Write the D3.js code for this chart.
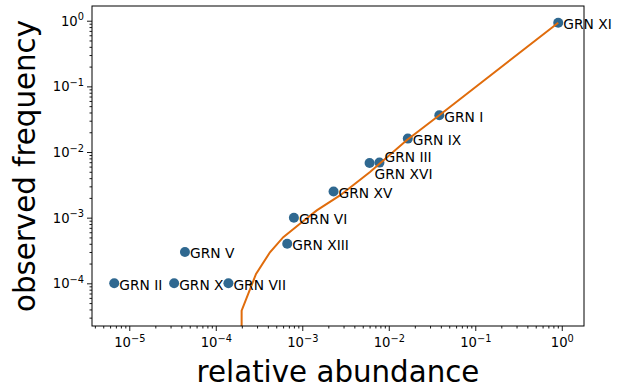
<!DOCTYPE html>
<html>
<head>
<meta charset="utf-8">
<script src="https://cdn.jsdelivr.net/npm/d3@7"></script>
<style>
	body { margin: 0; background: #fff; }
	text { font-family: "DejaVu Sans", sans-serif; fill: #000; }
</style>
</head>
<body>
<div id="chart"></div>
<script>

// groups
const names = ['GRN I', 'GRN II', 'GRN III', 'GRN V', 'GRN VI', 'GRN VII', 'GRN IX', 'GRN X', 'GRN XI', 'GRN XIII', 'GRN XV', 'GRN XVI'];
const abundance = [0.0384, 6.7e-6, 0.0078, 4.4e-5, 8.0e-4, 1.4e-4, 0.0166, 3.3e-5, 0.91, 6.7e-4, 0.0023, 0.0060];
const frequency = [0.0363, 1e-4, 0.0069, 3e-4, 1e-3, 1e-4, 0.016, 1e-4, 0.93, 4e-4, 0.0025, 0.0068];

// fitted curve, points (first one is clipped below the axis)
const curveX = [1.99e-4, 1.99e-4, 2.92e-4, 4.23e-4, 6.03e-4, 9.4e-4, 1.47e-3, 2.73e-3, 6.07e-3, 0.0161, 0.0384, 0.91];
const curveY = [1e-6, 3.83e-5, 1.39e-4, 2.97e-4, 5.04e-4, 8.07e-4, 1.29e-3, 2.18e-3, 4.95e-3, 0.0151, 0.0363, 0.93];

const xDecades = [-5, -4, -3, -2, -1, 0];
const yDecades = [-4, -3, -2, -1, 0];

// a couple of labels were nudged apart in the original
const labelShift = { 'GRN III': -7.5, 'GRN XVI': 9 };

class AbundancePlot {

	constructor(options) {
		this.element = options.element;
		this.points = names.map((n, i) => ({ name: n, x: abundance[i], y: frequency[i] }));
		this.curve = curveX.map((x, i) => ({ x: x, y: curveY[i] }));
		this.draw();
	}

	draw() {
		this.width = 619;
		this.height = 388;
		this.left = 92;
		this.right = 584;
		this.top = 6;
		this.bottom = 326;

		this.createSVG();
		this.createScales();
		this.createAxes();
		this.createDots();
		this.createCurve();
		this.createLabels();
		this.createFrame();
		this.createTitles();
	}

	createSVG() {
		this.svg = d3.select(this.element)
			.append('svg')
				.attr('width', this.width)
				.attr('height', this.height);

		this.svg.append('clipPath')
			.attr('id', 'plotArea')
			.append('rect')
				.attr('x', this.left)
				.attr('y', this.top)
				.attr('width', this.right - this.left)
				.attr('height', this.bottom - this.top);
	}

	createScales() {
		this.xScale = d3.scaleLog()
			.domain([Math.pow(10, -5.431), Math.pow(10, 0.257)])
			.range([this.left, this.right]);

		this.yScale = d3.scaleLog()
			.domain([Math.pow(10, -4.65), Math.pow(10, 0.224)])
			.range([this.bottom, this.top]);
	}

	createAxes() {
		var that = this;
		var xMajor = xDecades.map(d => Math.pow(10, d));
		var yMajor = yDecades.map(d => Math.pow(10, d));
		var isMajor = d => Math.abs(Math.log10(d) - Math.round(Math.log10(d))) < 1e-9;

		// minor ticks
		this.svg.append('g')
			.attr('transform', `translate(0, ${this.bottom})`)
			.call(d3.axisBottom(this.xScale)
				.tickValues(this.xScale.ticks().filter(d => !isMajor(d)))
				.tickSize(2.5).tickFormat(''))
			.call(g => g.select('.domain').remove());

		this.svg.append('g')
			.attr('transform', `translate(${this.left}, 0)`)
			.call(d3.axisLeft(this.yScale)
				.tickValues(this.yScale.ticks().filter(d => !isMajor(d)))
				.tickSize(2.5).tickFormat(''))
			.call(g => g.select('.domain').remove());

		// major ticks with 10^n labels
		var xAxis = this.svg.append('g')
			.attr('transform', `translate(0, ${this.bottom})`)
			.call(d3.axisBottom(this.xScale).tickValues(xMajor).tickSize(5).tickFormat(''));
		xAxis.select('.domain').remove();
		xAxis.selectAll('.tick').each(function(d, i) {
			var t = d3.select(this).append('text')
				.attr('y', 21)
				.attr('text-anchor', 'middle')
				.style('font-size', '13.2px');
			that.powerLabel(t, xDecades[i]);
		});

		var yAxis = this.svg.append('g')
			.attr('transform', `translate(${this.left}, 0)`)
			.call(d3.axisLeft(this.yScale).tickValues(yMajor).tickSize(5).tickFormat(''));
		yAxis.select('.domain').remove();
		yAxis.selectAll('.tick').each(function(d, i) {
			var t = d3.select(this).append('text')
				.attr('x', -8)
				.attr('y', 4.5)
				.attr('text-anchor', 'end')
				.style('font-size', '13.2px');
			that.powerLabel(t, yDecades[i]);
		});

		this.svg.selectAll('.tick line').attr('stroke', '#000').attr('stroke-width', 0.9);
	}

	powerLabel(t, p) {
		t.append('tspan').text('10');
		t.append('tspan')
			.attr('dy', -5.5)
			.style('font-size', '9.8px')
			.text(p < 0 ? '\u2212' + Math.abs(p) : p);
	}

	createDots() {
		var that = this;

		this.svg.append('g')
			.selectAll('circle')
			.data(this.points).enter()
			.append('circle')
				.attr('cx', d => that.xScale(d.x))
				.attr('cy', d => that.yScale(d.y))
				.attr('r', 5)
				.attr('fill', '#2f6890');
	}

	// drawn over the dots, like the original
	createCurve() {
		var that = this;
		var line = d3.line()
			.x(d => that.xScale(d.x))
			.y(d => that.yScale(d.y));

		this.svg.append('path')
			.datum(this.curve)
			.attr('clip-path', 'url(#plotArea)')
			.attr('fill', 'none')
			.attr('stroke', '#e06c0c')
			.attr('stroke-width', 2)
			.attr('d', line);
	}

	createLabels() {
		var that = this;

		this.svg.append('g')
			.selectAll('text')
			.data(this.points).enter()
			.append('text')
				.attr('x', d => that.xScale(d.x) + 5)
				.attr('y', d => that.yScale(d.y) + 6.5 + (labelShift[d.name] || 0))
				.style('font-size', '13.8px')
				.text(d => d.name);
	}

	createFrame() {
		this.svg.append('rect')
			.attr('x', this.left)
			.attr('y', this.top)
			.attr('width', this.right - this.left)
			.attr('height', this.bottom - this.top)
			.attr('fill', 'none')
			.attr('stroke', '#000')
			.attr('stroke-width', 1);
	}

	createTitles() {
		this.svg.append('text')
			.attr('x', (this.left + this.right) / 2)
			.attr('y', 382)
			.attr('text-anchor', 'middle')
			.style('font-size', '29.3px')
			.text('relative abundance');

		this.svg.append('text')
			.attr('transform', `translate(35, ${(this.top + this.bottom) / 2}) rotate(-90)`)
			.attr('text-anchor', 'middle')
			.style('font-size', '29.3px')
			.text('observed frequency');
	}

}

new AbundancePlot({ element: '#chart' });

</script>
</body>
</html>
